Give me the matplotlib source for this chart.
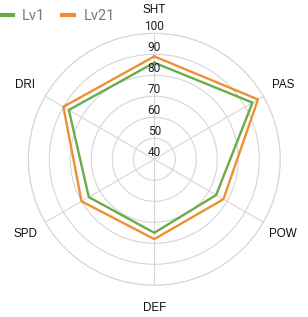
import numpy as np
import matplotlib
matplotlib.use("Agg")
import matplotlib.pyplot as plt
import matplotlib.transforms as mtransforms
from matplotlib.lines import Line2D

categories = ["SHT", "PAS", "POW", "DEF", "SPD", "DRI"]
series_names = ["Lv1", "Lv21"]
lv1 = [86, 94, 74, 75, 76, 87]
lv21 = [89, 97, 78, 78, 80, 90]
tick_values = [40, 50, 60, 70, 80, 90, 100]
colors = ["#6aab4a", "#ef8f34"]

plt.rcParams['font.family'] = ['Roboto', 'DejaVu Sans']

W, H = 308, 317
dpi = 100
fig = plt.figure(figsize=(W / dpi, H / dpi), dpi=dpi)

cx, cy, R = 154.3, 159.3, 126.0
ax = fig.add_axes([(cx - R) / W, (H - cy - R) / H, 2 * R / W, 2 * R / H], projection='polar')
ax.set_theta_offset(np.pi / 2)
ax.set_theta_direction(-1)
ax.set_ylim(tick_values[0], tick_values[-1])

n = len(categories)
angles = np.arange(n) * 2 * np.pi / n

grid_color = "#d6d6d6"
ax.set_xticks(angles)
ax.set_xticklabels([])
ax.set_yticks(tick_values)
ax.set_yticklabels([])
ax.grid(True, color=grid_color, linewidth=0.8)
ax.spines['polar'].set_color(grid_color)
ax.spines['polar'].set_linewidth(0.8)
ax.patch.set_alpha(0)

for vals, name, c in zip([lv1, lv21], series_names, colors):
    a = np.concatenate([angles, angles[:1]])
    v = np.concatenate([vals, vals[:1]])
    ax.plot(a, v, color=c, linewidth=1.7, label=name, clip_on=False, zorder=3)

# tick labels along the top spoke
off = mtransforms.offset_copy(ax.transData, fig=fig, x=0, y=7 / dpi * 72, units='points')
for t in tick_values:
    ax.text(0, t, str(t), transform=off, ha='center', va='center',
            fontsize=8.6, color='#222222', zorder=4)

# category labels
lab_r = tick_values[0] + 149 / R * (tick_values[-1] - tick_values[0])
for ang, lab in zip(angles, categories):
    ax.text(ang, lab_r, lab, ha='center', va='center', fontsize=8.4,
            color='#111111', family=['Liberation Sans', 'DejaVu Sans'], clip_on=False)

# legend
handles = [Line2D([0], [0], color=c, linewidth=3) for c in colors]
leg = fig.legend(handles, series_names, loc='upper left', bbox_to_anchor=(-0.04, 1.012),
                 ncol=2, frameon=False, fontsize=10.5, labelcolor='#777777',
                 handlelength=0.82, handletextpad=0.65, columnspacing=1.15)

fig.savefig("out.png", dpi=dpi)
